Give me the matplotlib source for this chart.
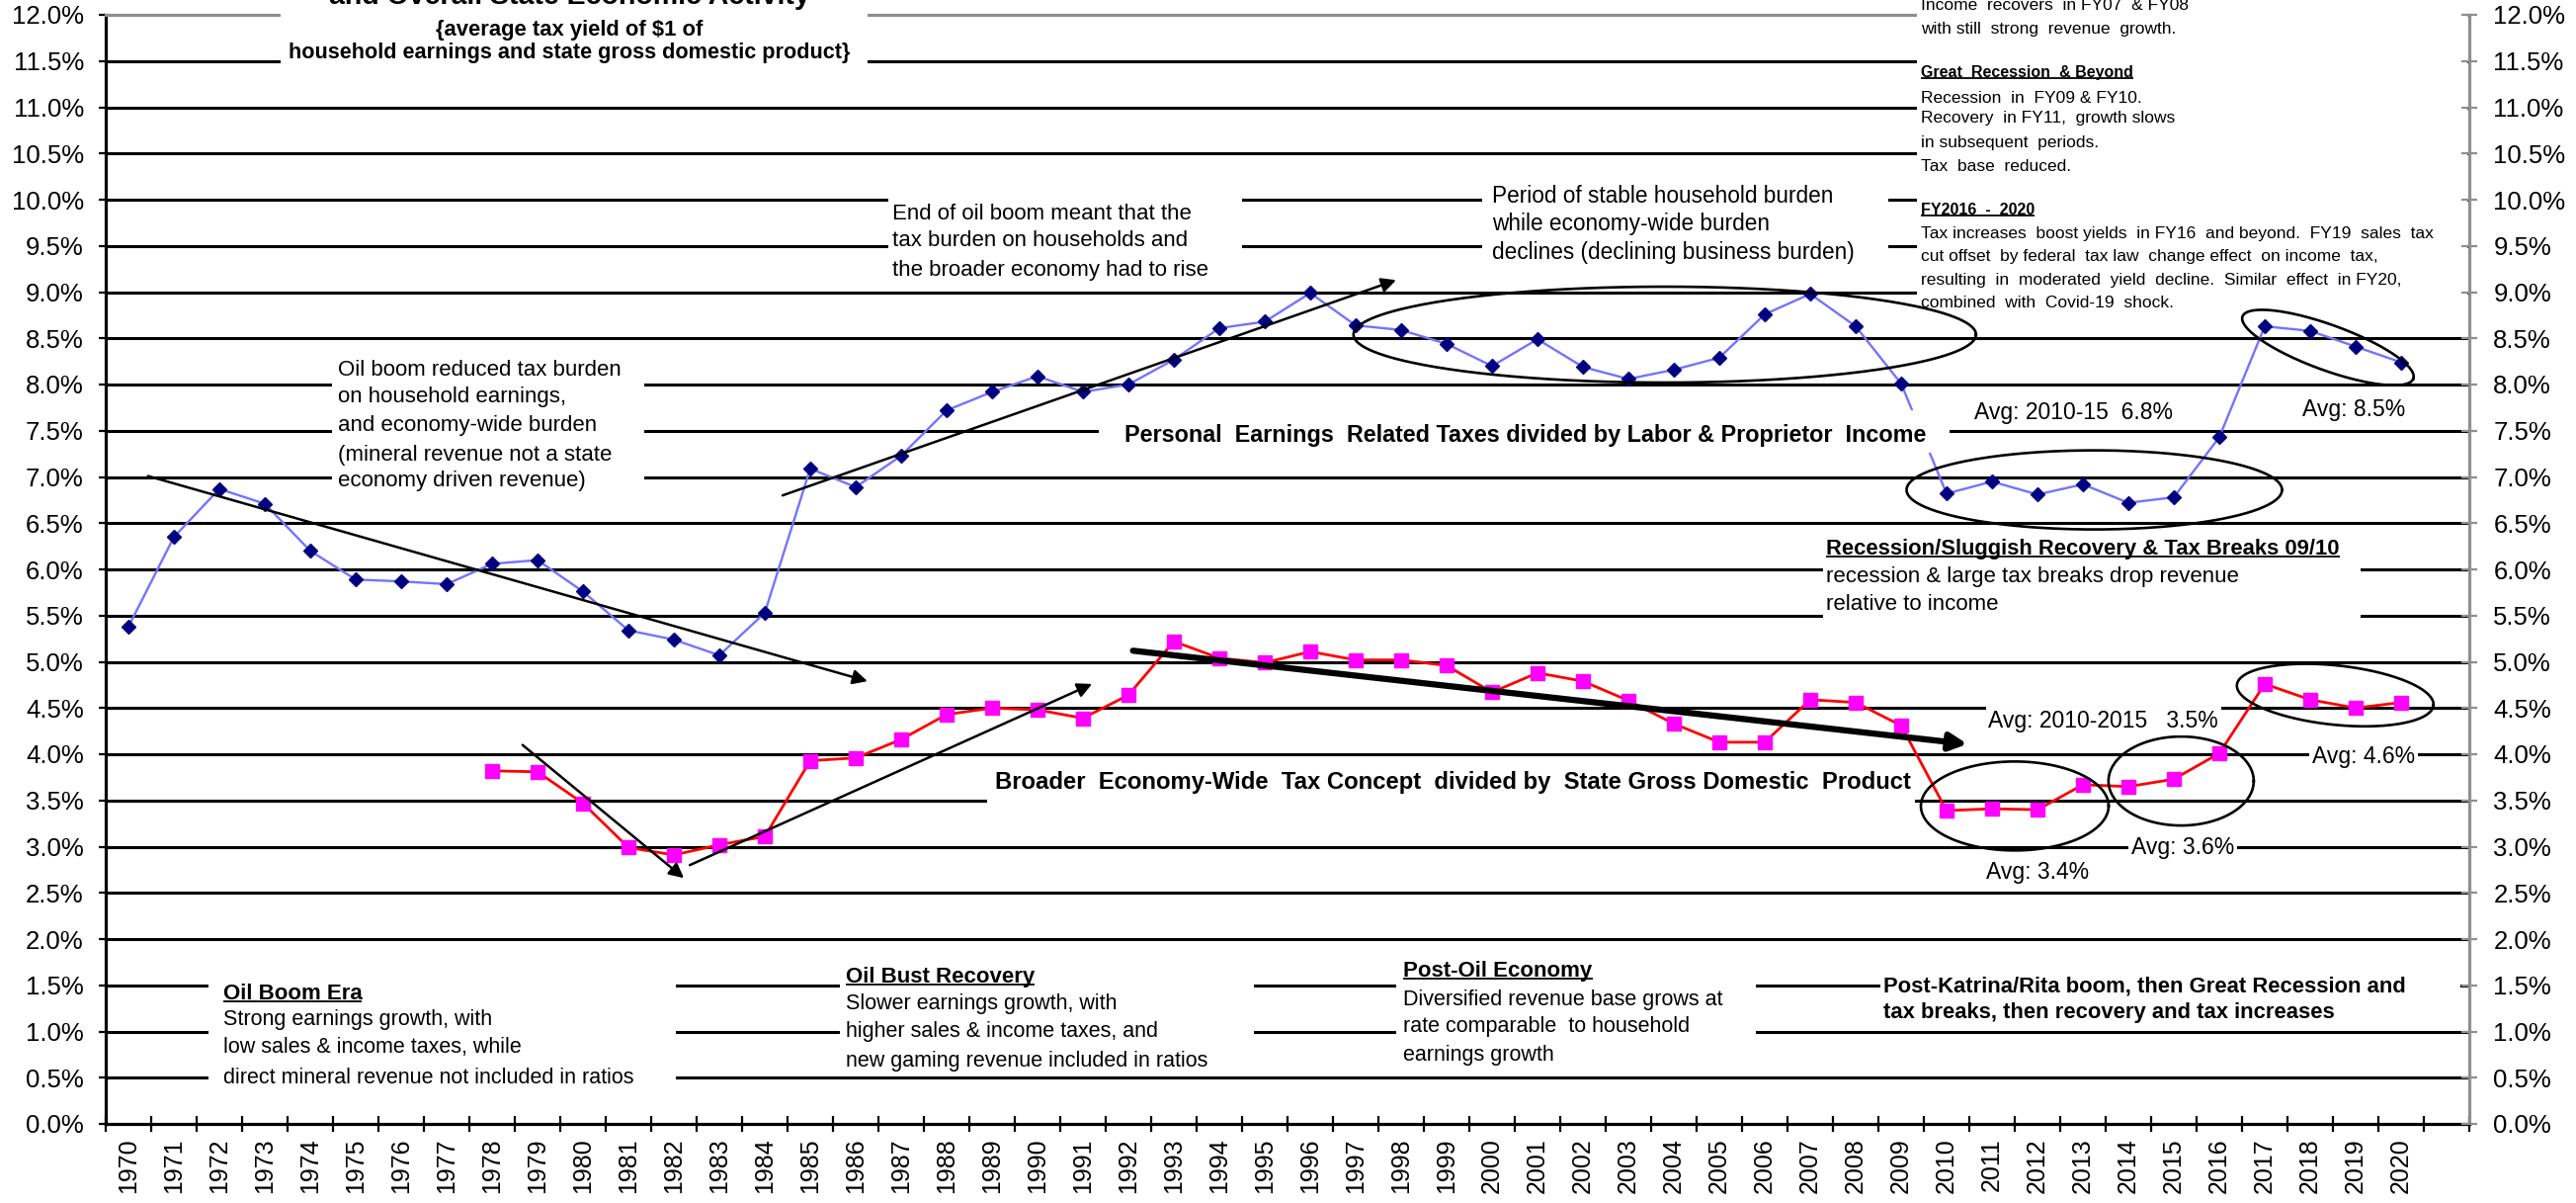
import numpy as np
import matplotlib
matplotlib.use('Agg')
import matplotlib.pyplot as plt
from matplotlib.patches import Rectangle

# ---------------- data ----------------
years = list(range(1970, 2021))
earn_ratio = [5.38, 6.35, 6.87, 6.71, 6.20, 5.89, 5.87, 5.84, 6.06, 6.10,
              5.76, 5.34, 5.24, 5.07, 5.53, 7.09, 6.89, 7.23, 7.72, 7.92,
              8.09, 7.92, 8.00, 8.27, 8.61, 8.68, 8.99, 8.64, 8.59, 8.44,
              8.20, 8.49, 8.19, 8.06, 8.16, 8.29, 8.76, 8.98, 8.63, 8.01,
              6.82, 6.95, 6.81, 6.92, 6.72, 6.78, 7.43, 8.63, 8.58, 8.41, 8.24]
gdp_years = list(range(1978, 2021))
gdp_ratio = [3.82, 3.81, 3.47, 2.99, 2.91, 3.02, 3.11, 3.93, 3.96, 4.16,
             4.43, 4.50, 4.48, 4.39, 4.64, 5.22, 5.04, 4.99, 5.11, 5.02,
             5.02, 4.96, 4.67, 4.88, 4.79, 4.58, 4.33, 4.13, 4.13, 4.59,
             4.56, 4.31, 3.39, 3.41, 3.40, 3.67, 3.65, 3.73, 4.01, 4.76,
             4.59, 4.50, 4.56]
y_ticks = np.arange(0, 12.01, 0.5)
y_labels = ['%.1f%%' % v for v in y_ticks]

SANS = ['Liberation Sans', 'DejaVu Sans']
NARROW = ['Liberation Sans Narrow', 'Liberation Sans', 'DejaVu Sans']
plt.rcParams['font.family'] = SANS

fig = plt.figure(figsize=(26.07, 12.17), dpi=100)
ax = fig.add_axes([107/2607, 80/1217, 2392/2607, 1122/1217])
ax.set_xlim(1969.5, 2021.5)
ax.set_ylim(0, 12)

########### grid + axes
for v in y_ticks[1:-1]:
    ax.axhline(v, color='black', lw=2.2, zorder=1)

GREY = '#8f8f8f'
for s, c in [('left', 'black'), ('bottom', 'black'), ('top', GREY), ('right', GREY)]:
    ax.spines[s].set_color(c)
    ax.spines[s].set_linewidth(2.3)

ax.set_yticks(y_ticks, y_labels)
ax.tick_params(axis='y', direction='out', length=5, width=1.6, pad=11, labelsize=18.5)

ax2 = ax.twinx()
ax2.set_ylim(0, 12)
ax2.set_yticks(y_ticks, y_labels)
ax2.tick_params(axis='y', direction='inout', length=11, width=1.6, color=GREY,
                labelcolor='black', pad=12, labelsize=18.5)
for s in ax2.spines.values():
    s.set_visible(False)

edges = np.arange(1969.5, 2022, 1.0)
ax.set_xticks(edges, [''] * len(edges))
ax.set_xticks(years, [str(y) for y in years], minor=True)
ax.tick_params(axis='x', which='major', direction='inout', length=11, width=1.6)
ax.tick_params(axis='x', which='minor', length=0, pad=10.5, labelsize=18, labelrotation=90)

########### series
ax.plot(years, earn_ratio, color='#7373ff', lw=1.7, marker='D', ms=7.4,
        mfc='#000080', mec='#000080', zorder=3)
ax.plot(gdp_years, gdp_ratio, color='#ff0000', lw=2.0, marker='s', ms=9.5,
        mfc='#ff00ff', mec='#ff00ff', zorder=3)

########### white boxes behind the notes (they cut the grid lines)
boxes = [(1973.35, 1986.26, 11.30, 12.60),
         (2009.35, 2021.45, 8.78, 12.60),
         (1974.48, 1981.35, 6.82, 8.32),
         (1986.72, 1994.50, 9.08, 10.25),
         (1999.78, 2008.72, 9.10, 10.25),
         (1991.35, 2010.07, 7.26, 7.72),
         (1988.90, 2009.30, 3.42, 3.92),
         (2007.28, 2019.10, 5.42, 6.40),
         (1971.76, 1982.04, 0.38, 1.58),
         (1985.65, 1994.76, 0.56, 1.75),
         (1997.90, 2005.80, 0.60, 1.80),
         (2008.55, 2021.30, 1.06, 1.64)]
for x0, x1, y0, y1 in boxes:
    ax.add_patch(Rectangle((x0, y0), x1 - x0, y1 - y0, facecolor='white',
                           edgecolor='none', zorder=4, clip_on=False))

underlined = []


def note(x, y, s, size=16, bold=False, narrow=False, ha='left', va='center',
         under=False, box=False):
    t = ax.text(x, y, s, fontsize=size, fontweight='bold' if bold else 'normal',
                family=NARROW if narrow else SANS, ha=ha, va=va, zorder=5,
                clip_on=False)
    if box:
        t.set_bbox(dict(facecolor='white', edgecolor='none', pad=2))
    if under:
        underlined.append(t)
    return t


# title (cut at the top of the picture, as in the source)
note(1979.7, 12.12, 'and Overall State Economic Activity', 20.5, True, True, 'center', 'baseline')
note(1979.7, 11.83, '{average tax yield of $1 of', 15.8, True, True, 'center')
note(1979.7, 11.59, 'household earnings and state gross domestic product}', 15.6, True, True, 'center')

# top right block
tr = [('Income  recovers  in FY07  & FY08', 12.10, False),
      ('with still  strong  revenue  growth.', 11.85, False),
      ('Great  Recession  & Beyond', 11.37, True),
      ('Recession  in  FY09 & FY10.', 11.10, False),
      ('Recovery  in FY11,  growth slows', 10.88, False),
      ('in subsequent  periods.', 10.62, False),
      ('Tax  base  reduced.', 10.36, False),
      ('FY2016  -  2020', 9.89, True),
      ('Tax increases  boost yields  in FY16  and beyond.  FY19  sales  tax', 9.63, False),
      ('cut offset  by federal  tax law  change effect  on income  tax,', 9.39, False),
      ('resulting  in  moderated  yield  decline.  Similar  effect  in FY20,', 9.13, False),
      ('combined  with  Covid-19  shock.', 8.88, False)]
for s, yv, head in tr:
    if head:
        note(2009.43, yv, s, 11.5, True, True, under=True)
    else:
        note(2009.43, yv, s, 12.5)

for s, yv in zip(['Oil boom reduced tax burden', 'on household earnings,',
                  'and economy-wide burden', '(mineral revenue not a state',
                  'economy driven revenue)'], [8.15, 7.87, 7.56, 7.24, 6.96]):
    note(1974.6, yv, s, 16)

for s, yv in zip(['End of oil boom meant that the', 'tax burden on households and',
                  'the broader economy had to rise'], [9.84, 9.56, 9.24]):
    note(1986.8, yv, s, 16)

for s, yv in zip(['Period of stable household burden', 'while economy-wide burden',
                  'declines (declining business burden)'], [10.04, 9.74, 9.43]):
    note(2000.0, yv, s, 16.3)

note(2000.74, 7.45, 'Personal  Earnings  Related Taxes divided by Labor & Proprietor  Income',
     16.8, True, True, 'center')
note(1999.15, 3.69, 'Broader  Economy-Wide  Tax Concept  divided by  State Gross Domestic  Product',
     17.2, True, True, 'center')

note(2007.35, 6.22, 'Recession/Sluggish Recovery & Tax Breaks 09/10', 15.8, True, True, under=True)
note(2007.35, 5.92, 'recession & large tax breaks drop revenue', 16)
note(2007.35, 5.62, 'relative to income', 16)

for s, xv, yv in [('Avg: 2010-15  6.8%', 2012.8, 7.70), ('Avg: 8.5%', 2018.97, 7.73),
                  ('Avg: 2010-2015   3.5%', 2013.45, 4.36), ('Avg: 4.6%', 2019.17, 3.97),
                  ('Avg: 3.6%', 2015.2, 2.99), ('Avg: 3.4%', 2012.0, 2.72)]:
    note(xv, yv, s, 16.5, ha='center', box=True)

# era notes along the bottom
eras = [(1972.08, ['Oil Boom Era', 'Strong earnings growth, with',
                   'low sales & income taxes, while',
                   'direct mineral revenue not included in ratios'], [1.41, 1.13, 0.83, 0.50]),
        (1985.78, ['Oil Bust Recovery', 'Slower earnings growth, with',
                   'higher sales & income taxes, and',
                   'new gaming revenue included in ratios'], [1.59, 1.30, 1.00, 0.68]),
        (1998.05, ['Post-Oil Economy', 'Diversified revenue base grows at',
                   'rate comparable  to household', 'earnings growth'], [1.65, 1.34, 1.05, 0.74])]
for xv, lines, ys in eras:
    note(xv, ys[0], lines[0], 16, True, True, under=True)
    for s, yv in zip(lines[1:], ys[1:]):
        note(xv, yv, s, 15.5)
note(2008.6, 1.49, 'Post-Katrina/Rita boom, then Great Recession and', 15.8, True, True)
note(2008.6, 1.20, 'tax breaks, then recovery and tax increases', 15.8, True, True)

########### trend arrows
arrows = [((1970.43, 7.01), (1986.26, 4.79), 1.8),
          ((1984.39, 6.80), (1997.89, 9.13), 1.8),
          ((1978.67, 4.10), (1982.22, 2.66), 1.8),
          ((1982.35, 2.80), (1991.20, 4.76), 1.8),
          ((1992.10, 5.12), (2010.46, 4.11), 4.5)]
for start, tip, w in arrows:
    ax.annotate('', xy=tip, xytext=start, zorder=3.6,
                arrowprops=dict(arrowstyle='-|>', color='black', lw=w,
                                mutation_scale=22 if w < 3 else 26,
                                shrinkA=0, shrinkB=0))


########### ellipses (sizes in pixels so the shape is kept)
def ring(cx, cy, a, b, ang=0):
    t = np.linspace(0, 2 * np.pi, 300)
    c = ax.transData.transform((cx, cy))
    th = np.radians(ang)
    px = c[0] + a * np.cos(t) * np.cos(th) - b * np.sin(t) * np.sin(th)
    py = c[1] + a * np.cos(t) * np.sin(th) + b * np.sin(t) * np.cos(th)
    d = ax.transData.inverted().transform(np.column_stack([px, py]))
    ax.plot(d[:, 0], d[:, 1], color='black', lw=1.9, zorder=4.5)


ring(2003.80, 8.54, 315, 48.5)
ring(2013.25, 6.86, 190, 40)
ring(2018.39, 8.40, 92, 23, -20)
ring(2018.55, 4.64, 100, 30, -6)
ring(2015.16, 3.71, 73.5, 45)
ring(2011.50, 3.44, 95, 45)

########### underlines for the headings
fig.canvas.draw()
rend = fig.canvas.get_renderer()
inv = ax.transData.inverted()
for t in underlined:
    bb = t.get_window_extent(rend)
    yy = bb.y0 + bb.height * 0.14
    (x0, y0), (x1, _) = inv.transform([(bb.x0, yy), (bb.x1, yy)])
    ax.plot([x0, x1], [y0, y0], color='black', lw=1.3, zorder=6,
            clip_on=False, solid_capstyle='butt')

fig.savefig('out.png', dpi=100)
